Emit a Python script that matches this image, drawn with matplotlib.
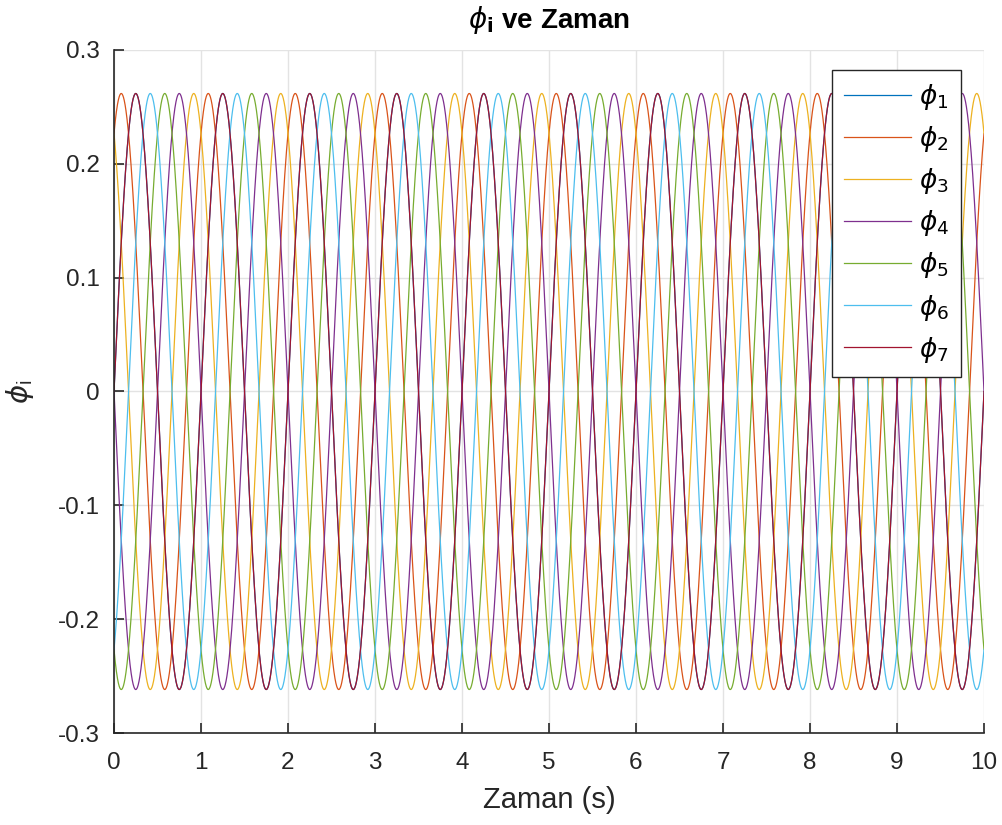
import numpy as np
import matplotlib
matplotlib.use("Agg")
import matplotlib.pyplot as plt
from matplotlib.ticker import FuncFormatter

plt.rcParams['font.family'] = ['Liberation Sans', 'DejaVu Sans']
plt.rcParams['axes.unicode_minus'] = False
plt.rcParams['mathtext.fontset'] = 'dejavusans'

# values: 7 sine waves, 1 Hz, amplitude ~0.262 rad (15 deg)
labels = [r'$\phi_1$', r'$\phi_2$', r'$\phi_3$', r'$\phi_4$', r'$\phi_5$', r'$\phi_6$', r'$\phi_7$']
amplitude = 0.2618
frequency = 1.0
phase_deg = [0, 60, 120, 180, 240, 300, 360]
t_end = 10.0
colors = ['#0072BD', '#D95319', '#EDB120', '#7E2F8E', '#77AC30', '#4DBEEE', '#A2142F']

xticks = list(range(0, 11))
yticks = [-0.3, -0.2, -0.1, 0, 0.1, 0.2, 0.3]

t = np.linspace(0, t_end, 4001)

fig = plt.figure(figsize=(10.02, 8.25), dpi=100)
ax = fig.add_axes([114/1002, 1-733/825, (984-114)/1002, (733-50)/825])

for lab, ph, c in zip(labels, phase_deg, colors):
    y = amplitude*np.sin(2*np.pi*frequency*t + np.deg2rad(ph))
    ax.plot(t, y, color=c, lw=0.9, label=lab)

ax.set_xlim(0, 10)
ax.set_ylim(-0.3, 0.3)
ax.set_xticks(xticks)
ax.set_yticks(yticks)
ax.yaxis.set_major_formatter(FuncFormatter(lambda v, p: '0' if abs(v) < 1e-9 else ('%g' % round(v, 1))))

ax.grid(True, color='#e3e3e3', lw=1.0)
ax.set_axisbelow(True)
for s in ['top', 'right']:
    ax.spines[s].set_visible(False)
for s in ['left', 'bottom']:
    ax.spines[s].set_color('#262626')
    ax.spines[s].set_linewidth(1.2)
ax.tick_params(direction='in', length=7, width=1.2, colors='#262626', labelsize=17.5)
ax.tick_params(axis='x', pad=14)
ax.tick_params(axis='y', pad=10)

ax.set_xlabel('Zaman (s)', fontsize=21, color='#262626', labelpad=8)
ax.set_ylabel(r'$\phi_\mathregular{i}$', fontsize=21, color='#262626', labelpad=16)
ax.set_title(r'$\phi_\mathbf{i}$ ve Zaman', fontsize=20, fontweight='bold', pad=16)

leg = ax.legend(loc='upper right', bbox_to_anchor=((961-114)/870, (733-70)/683),
                fontsize=19, frameon=True, fancybox=False, framealpha=1,
                edgecolor='#262626', handlelength=2.55, handletextpad=0.3,
                labelspacing=0.46, borderpad=0.45, borderaxespad=0)
leg.get_frame().set_linewidth(1.0)

fig.savefig('out.png', dpi=100)
